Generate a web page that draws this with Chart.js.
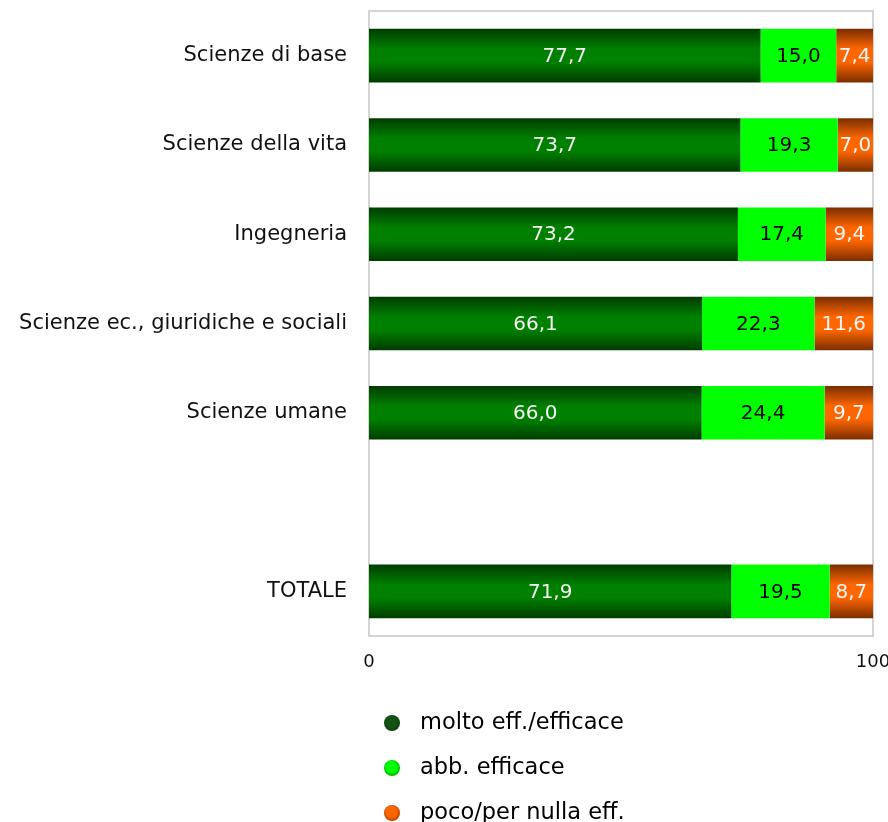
<!DOCTYPE html>
<html>
<head>
<meta charset="utf-8">
<script src="https://cdn.jsdelivr.net/npm/chart.js@4/dist/chart.umd.min.js"></script>
<style>
  html, body { margin: 0; padding: 0; background: #ffffff; }
  #wrap { width: 888px; height: 822px; position: relative; }
</style>
</head>
<body>
<div id="wrap"><canvas id="chart" width="888" height="822"></canvas></div>
<script>
// Areas of study (the empty entry leaves a gap before the total row)
const categories = [
  'Scienze di base',
  'Scienze della vita',
  'Ingegneria',
  'Scienze ec., giuridiche e sociali',
  'Scienze umane',
  '',
  'TOTALE'
];
const seriesNames = ['molto eff./efficace', 'abb. efficace', 'poco/per nulla eff.'];
const moltoEfficace = [77.7, 73.7, 73.2, 66.1, 66.0, null, 71.9];
const abbEfficace   = [15.0, 19.3, 17.4, 22.3, 24.4, null, 19.5];
const pocoNulla     = [7.4, 7.0, 9.4, 11.6, 9.7, null, 8.7];
const xTicks = [0, 100];

const FONT = '"DejaVu Sans", sans-serif';
const BAR_PCT = 0.6;

// Colour stops (edge, centre) for the shaded bars and legend markers
const shades = [
  { edge: '#003c00', mid: '#008000', dot: '#145214', dotEdge: '#0a380a', label: '#f4f4f4' },
  { edge: '#00ff00', mid: '#00ff00', dot: '#00ff00', dotEdge: '#00a000', label: '#000000' },
  { edge: '#7a2e00', mid: '#ff6600', dot: '#ff6600', dotEdge: '#a03800', label: '#f4f4f4' }
];

function barGradient(shade) {
  return function (ctx) {
    const chart = ctx.chart;
    const y = chart.scales && chart.scales.y;
    if (!chart.chartArea || !y || ctx.dataIndex === undefined) return shade.mid;
    const center = y.getPixelForValue(ctx.dataIndex);
    const step = (chart.chartArea.bottom - chart.chartArea.top) / categories.length;
    const half = step * BAR_PCT / 2;
    const g = chart.ctx.createLinearGradient(0, center - half, 0, center + half);
    g.addColorStop(0, shade.edge);
    g.addColorStop(0.38, shade.mid);
    g.addColorStop(0.62, shade.mid);
    g.addColorStop(1, shade.edge);
    return g;
  };
}

// Drop the automatic edge padding so the plotting area sits where layout.padding puts it
function noEdgePadding(scale) {
  scale.paddingLeft = 0;
  scale.paddingRight = 0;
  scale.paddingTop = 0;
  scale.paddingBottom = 0;
}

// Light grey frame around the plotting area
const frame = {
  id: 'frame',
  beforeDatasetsDraw(chart) {
    const { ctx, chartArea: a } = chart;
    ctx.save();
    ctx.strokeStyle = '#d4d4d4';
    ctx.lineWidth = 2;
    ctx.strokeRect(a.left, a.top, a.right - a.left, a.bottom - a.top);
    ctx.restore();
  }
};

// Values written in the middle of each segment, with a comma decimal
const valueLabels = {
  id: 'valueLabels',
  afterDatasetsDraw(chart) {
    const { ctx } = chart;
    ctx.save();
    ctx.font = '20px ' + FONT;
    ctx.textAlign = 'center';
    ctx.textBaseline = 'middle';
    chart.data.datasets.forEach((ds, di) => {
      const meta = chart.getDatasetMeta(di);
      meta.data.forEach((bar, i) => {
        const v = ds.data[i];
        if (v === null || v === undefined) return;
        const left = Math.min(bar.x, bar.base);
        const right = Math.min(Math.max(bar.x, bar.base), chart.chartArea.right);
        ctx.fillStyle = shades[di].label;
        ctx.fillText(v.toFixed(1).replace('.', ','), (left + right) / 2, bar.y + 1);
      });
    });
    ctx.restore();
  }
};

// Vertical legend below the axis with shaded round markers
const roundLegend = {
  id: 'roundLegend',
  afterDraw(chart) {
    const { ctx } = chart;
    const x0 = 392, y0 = 723, gap = 45;
    ctx.save();
    ctx.font = '22.5px ' + FONT;
    ctx.textAlign = 'left';
    ctx.textBaseline = 'middle';
    seriesNames.forEach((name, i) => {
      const cy = y0 + i * gap;
      const g = ctx.createRadialGradient(x0 - 1, cy - 3, 1, x0, cy, 9);
      g.addColorStop(0, shades[i].dot);
      g.addColorStop(0.55, shades[i].dot);
      g.addColorStop(1, shades[i].dotEdge);
      ctx.beginPath();
      ctx.arc(x0, cy, 8, 0, Math.PI * 2);
      ctx.fillStyle = g;
      ctx.fill();
      ctx.fillStyle = '#000000';
      ctx.fillText(name, x0 + 28, cy);
    });
    ctx.restore();
  }
};

const datasets = [moltoEfficace, abbEfficace, pocoNulla].map((values, i) => ({
  label: seriesNames[i],
  data: values,
  backgroundColor: barGradient(shades[i]),
  borderWidth: 0,
  barPercentage: BAR_PCT,
  categoryPercentage: 1
}));

new Chart(document.getElementById('chart'), {
  type: 'bar',
  data: { labels: categories, datasets },
  options: {
    indexAxis: 'y',
    responsive: false,
    animation: false,
    layout: { padding: { top: 11, right: 15, left: 0, bottom: 0 } },
    plugins: { legend: { display: false }, tooltip: { enabled: false } },
    scales: {
      x: {
        stacked: true,
        min: 0,
        max: 100,
        afterBuildTicks(scale) { scale.ticks = xTicks.map(v => ({ value: v })); },
        afterFit(scale) { scale.height = 186; noEdgePadding(scale); },
        grid: { display: false },
        border: { display: false },
        ticks: { color: '#111111', padding: 8, font: { family: FONT, size: 18 }, maxRotation: 0 }
      },
      y: {
        stacked: true,
        afterFit(scale) { scale.width = 369; noEdgePadding(scale); },
        grid: { display: false },
        border: { display: false },
        ticks: { color: '#111111', padding: 14, font: { family: FONT, size: 21 } }
      }
    }
  },
  plugins: [frame, valueLabels, roundLegend]
});
</script>
</body>
</html>
